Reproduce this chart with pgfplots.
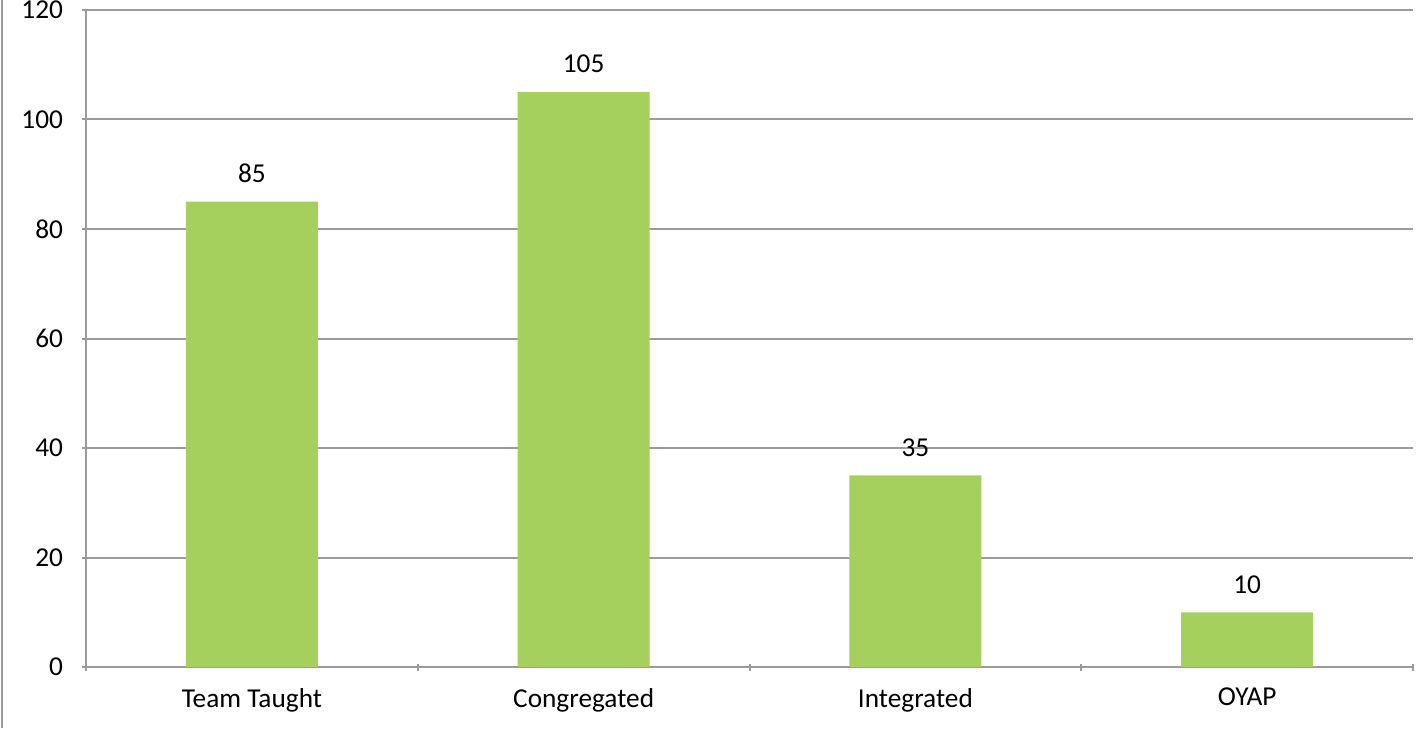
\documentclass[border=0pt]{standalone}
\usepackage{fontspec}
\setmainfont{Carlito}
\usepackage{pgfplots}
\pgfplotsset{compat=1.18}
\definecolor{bargreen}{RGB}{166,208,94}
\definecolor{gridgray}{RGB}{155,155,155}
\begin{document}
\begin{tikzpicture}[x=1bp,y=1bp]
\useasboundingbox (0,0) rectangle (708,364);
\draw[gridgray, line width=1bp] (1,0) -- (1,364);
\begin{axis}[
    at={(43bp,30.5bp)}, anchor=south west,
    scale only axis,
    width=663.5bp, height=328.5bp,
    ybar, bar width=66bp,
    xmin=-0.5, xmax=3.5,
    ymin=0, ymax=120,
    ytick={0,20,...,120},
    xtick={0,1,2,3},
    xticklabels={Team Taught,Congregated,Integrated,OYAP},
    minor xtick={-0.5,0.5,1.5,2.5,3.5},
    major x tick style={draw=none},
    tick align=outside,
    major tick length=4bp,
    minor tick length=3.5bp,
    axis x line=bottom, axis y line=left,
    axis line style={-, gridgray, line width=1bp},
    every tick/.style={gridgray, line width=1bp},
    ymajorgrids,
    grid style={gridgray, line width=1bp},
    font=\fontsize{13.7}{16}\selectfont,
    /pgf/number format/assume math mode=true,
    yticklabel style={xshift=-6bp},
    xticklabel style={yshift=-5bp},
    nodes near coords,
    every node near coord/.append style={black, yshift=6bp, font=\fontsize{13.7}{16}\selectfont},
    clip=false,
]
\addplot[fill=bargreen, draw=none] coordinates {(0,85) (1,105) (2,35) (3,10)};
\end{axis}
\end{tikzpicture}
\end{document}
